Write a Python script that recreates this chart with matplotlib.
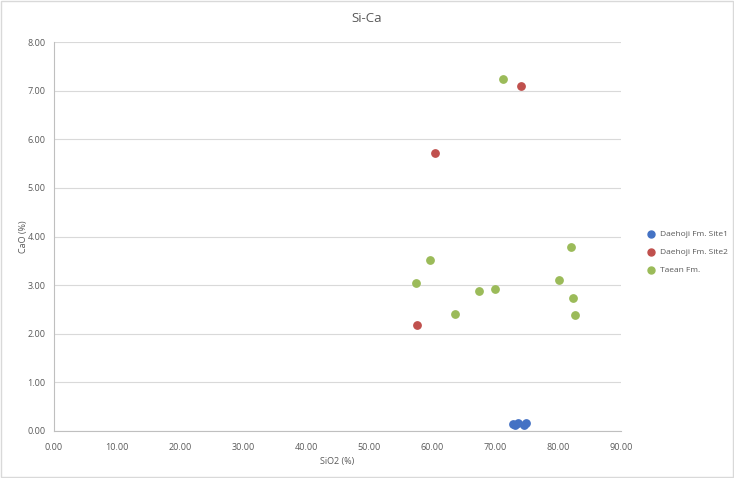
import numpy as np
import matplotlib.pyplot as plt
from matplotlib.patches import Rectangle

# data
site1_sio2 = [72.8, 73.2, 73.6, 74.6, 74.9]
site1_cao = [0.15, 0.12, 0.16, 0.13, 0.16]

site2_sio2 = [57.6, 60.4, 74.2]
site2_cao = [2.19, 5.71, 7.10]

taean_sio2 = [71.2, 57.4, 59.7, 63.7, 67.5, 70.0, 80.2, 82.1, 82.4, 82.7]
taean_cao = [7.24, 3.04, 3.52, 2.41, 2.87, 2.92, 3.11, 3.78, 2.73, 2.38]

series_names = ['Daehoji Fm. Site1', 'Daehoji Fm. Site2', 'Taean Fm.']
colors = ['#4472C4', '#C0504D', '#9BBB59']

x_ticks = np.arange(0, 91, 10)
y_ticks = np.arange(0, 8.01, 1)

plt.rcParams['font.family'] = ['Open Sans', 'DejaVu Sans']

fig = plt.figure(figsize=(7.34, 4.78), dpi=100)
ax = fig.add_axes([54/734, 47/478, 567/734, 389/478])

ax.scatter(site1_sio2, site1_cao, s=28, color=colors[0], label=series_names[0], zorder=3)
ax.scatter(site2_sio2, site2_cao, s=28, color=colors[1], label=series_names[1], zorder=3)
ax.scatter(taean_sio2, taean_cao, s=28, color=colors[2], label=series_names[2], zorder=3)

ax.set_xlim(0, 90)
ax.set_ylim(0, 8)
ax.set_xticks(x_ticks)
ax.set_yticks(y_ticks)
ax.set_xticklabels(['%.2f' % v for v in x_ticks])
ax.set_yticklabels(['%.2f' % v for v in y_ticks])
ax.tick_params(length=0, labelsize=6.5, colors='#595959')
ax.tick_params(axis='x', pad=9)
ax.tick_params(axis='y', pad=6)

ax.grid(axis='y', color='#D9D9D9', linewidth=0.8, zorder=0)
for side in ['top', 'right']:
    ax.spines[side].set_visible(False)
for side in ['left', 'bottom']:
    ax.spines[side].set_color('#BFBFBF')
    ax.spines[side].set_linewidth(0.8)

ax.set_xlabel('SiO2 (%)', fontsize=6.5, color='#595959', labelpad=3)
ax.set_ylabel('CaO (%)', fontsize=6.5, color='#595959', labelpad=0)
fig.text(0.5, 1 - 19/478, 'Si-Ca', ha='center', va='center', fontsize=9.5, color='#595959')

leg = ax.legend(loc='center left', bbox_to_anchor=(643/734, 1 - 252/478), bbox_transform=fig.transFigure,
                frameon=False, fontsize=6, handletextpad=0.0, labelspacing=1.2, markerscale=0.95,
                borderaxespad=0, borderpad=0)
for t in leg.get_texts():
    t.set_color('#595959')

# thin border around the chart area
fig.patches.append(Rectangle((0.002, 0.002), 0.996, 0.996, transform=fig.transFigure,
                             fill=False, edgecolor='#D9D9D9', linewidth=1))

fig.savefig('out.png', dpi=100)
